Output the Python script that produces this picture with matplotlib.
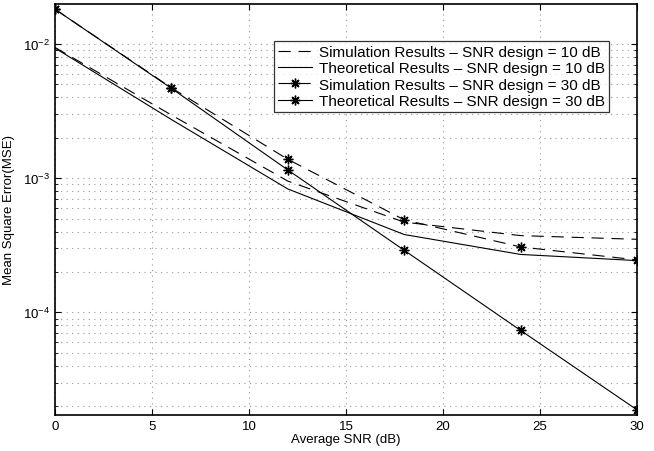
import numpy as np
import matplotlib
matplotlib.use('Agg')
import matplotlib.pyplot as plt
from matplotlib.ticker import LogLocator, NullFormatter, MultipleLocator

plt.rcParams['font.family'] = ['Liberation Sans', 'DejaVu Sans']
plt.rcParams['mathtext.fontset'] = 'custom'
plt.rcParams['mathtext.rm'] = 'Liberation Sans'

snr = [0, 6, 12, 18, 24, 30]
sim_10 = [9.4e-3, 2.95e-3, 9.5e-4, 4.7e-4, 3.73e-4, 3.5e-4]
theo_10 = [9.3e-3, 2.73e-3, 8.3e-4, 3.8e-4, 2.7e-4, 2.43e-4]
sim_30 = [1.81e-2, 4.7e-3, 1.38e-3, 4.89e-4, 3.07e-4, 2.46e-4]
theo_30 = [1.81e-2, 4.66e-3, 1.15e-3, 2.9e-4, 7.34e-5, 1.88e-5]

labels = ['Simulation Results – SNR design = 10 dB',
          'Theoretical Results – SNR design = 10 dB',
          'Simulation Results – SNR design = 30 dB',
          'Theoretical Results – SNR design = 30 dB']

fig = plt.figure(figsize=(6.54, 4.52), dpi=100)
ax = fig.add_axes([0.0841, 0.0796, 0.8899, 0.9094])

lw = 0.8
dash = (0, (11, 7))
star = (8, 2, 0)  # asterisk like the MATLAB '*'
ax.semilogy(snr, sim_10, color='black', linestyle=dash, linewidth=lw, label=labels[0])
ax.semilogy(snr, theo_10, color='black', linestyle='-', linewidth=lw, label=labels[1])
ax.semilogy(snr, sim_30, color='black', linestyle=dash, linewidth=lw,
            marker=star, markersize=7, markeredgewidth=1.0, label=labels[2])
ax.semilogy(snr, theo_30, color='black', linestyle='-', linewidth=lw,
            marker=star, markersize=7, markeredgewidth=1.0, label=labels[3])

ax.set_xlim(0, 30)
ax.set_ylim(1.72e-5, 1.98e-2)
ax.xaxis.set_major_locator(MultipleLocator(5))
ax.yaxis.set_major_locator(LogLocator(base=10))
ax.yaxis.set_minor_locator(LogLocator(base=10, subs=np.arange(2, 10)))
ax.yaxis.set_minor_formatter(NullFormatter())

ax.grid(True, which='major', color='#999999', linestyle=(0, (1, 4)), linewidth=0.8)
ax.grid(True, which='minor', axis='y', color='#999999', linestyle=(0, (1, 4)), linewidth=0.8)

ax.tick_params(which='both', direction='in', top=True, right=True, labelsize=9.5)
ax.tick_params(which='major', length=4, width=0.8)
ax.tick_params(which='minor', length=2, width=0.6)
for s in ax.spines.values():
    s.set_linewidth(1.2)

ax.set_xlabel('Average SNR (dB)', fontsize=9.5, labelpad=1)
ax.set_ylabel('Mean Square Error(MSE)', fontsize=9.5, labelpad=6)

leg = ax.legend(loc='upper right', bbox_to_anchor=(0.952, 0.909), borderaxespad=0,
                fontsize=11, frameon=True, fancybox=False, edgecolor='black',
                handlelength=2.2, handletextpad=0.5, borderpad=0.25, labelspacing=0.15)
leg.get_frame().set_linewidth(0.9)

fig.savefig('out.png', dpi=100)
